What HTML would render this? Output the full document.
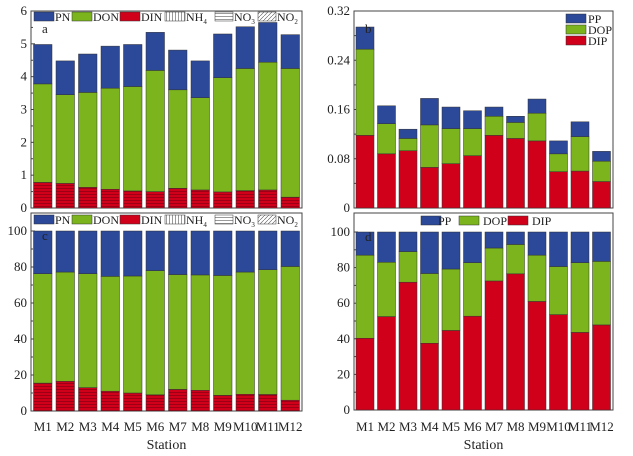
<!DOCTYPE html>
<html><head><meta charset="utf-8"><style>
body{margin:0;background:#fff;}
svg{display:block;font-family:"Liberation Serif",serif;}
</style></head><body>
<svg id="chart" width="633" height="456" viewBox="0 0 633 456" xmlns="http://www.w3.org/2000/svg">
<defs>
<pattern id="din" patternUnits="userSpaceOnUse" width="4" height="3"><rect width="4" height="3" fill="#d0001a"/><line x1="0" y1="2.5" x2="4" y2="2.5" stroke="#7a0010" stroke-width="0.6"/></pattern>
<pattern id="hz" patternUnits="userSpaceOnUse" width="4" height="3"><rect width="4" height="3" fill="#fff"/><line x1="0" y1="1.5" x2="4" y2="1.5" stroke="#555" stroke-width="0.6"/></pattern>
<pattern id="vt" patternUnits="userSpaceOnUse" width="3" height="4"><rect width="3" height="4" fill="#fff"/><line x1="1.5" y1="0" x2="1.5" y2="4" stroke="#555" stroke-width="0.6"/></pattern>
<pattern id="dg" patternUnits="userSpaceOnUse" width="4" height="4"><rect width="4" height="4" fill="#fff"/><line x1="0" y1="4" x2="4" y2="0" stroke="#555" stroke-width="0.6"/></pattern>
</defs>
</svg>
<script>
const stations=["M1","M2","M3","M4","M5","M6","M7","M8","M9","M10","M11","M12"];
const aDIN=[0.78,0.75,0.63,0.57,0.52,0.50,0.60,0.55,0.49,0.53,0.55,0.33];
const aDON=[3.00,2.70,2.89,3.08,3.18,3.69,3.00,2.81,3.48,3.72,3.89,3.92];
const aPN=[1.20,1.03,1.17,1.28,1.28,1.16,1.21,1.12,1.33,1.27,1.21,1.03];
const bDIP=[0.118,0.088,0.093,0.066,0.072,0.085,0.118,0.113,0.109,0.059,0.060,0.043];
const bDOP=[0.140,0.049,0.020,0.069,0.057,0.044,0.031,0.026,0.045,0.029,0.056,0.033];
const bPP=[0.036,0.029,0.015,0.043,0.035,0.029,0.015,0.010,0.023,0.021,0.024,0.016];
const cDIN=[15.5,16.5,13,11,10,9,12,11.5,8.7,9.3,9.2,6];
const cDON=[60.8,60.7,63.3,63.8,65,69,63.8,64.1,66.6,67.9,69.3,74.3];
const cPN=[23.7,22.8,23.7,25.2,25,22,24.2,24.4,24.7,22.8,21.5,19.7];
const dDIP=[40.3,52.5,71.8,37.5,44.7,52.7,72.5,76.5,61,53.6,43.6,47.8];
const dDOP=[46.7,30.5,17.2,39.2,34.5,30.1,18.5,16.5,26,27,39.2,35.7];
const dPP=[13,17,11,23.3,20.8,17.2,9,7,13,19.4,17.2,16.5];
const aTicks=[0,1,2,3,4,5,6];
const bTicks=[0,0.08,0.16,0.24,0.32];
const pTicks=[0,20,40,60,80,100];
const C={PN:"#2b4899",DON:"#7bb41d",DIN:"url(#din)",DIP:"#d0001a"};
const svg=document.getElementById('chart');
const NS="http://www.w3.org/2000/svg";
function mk(tag,at,par){const e=document.createElementNS(NS,tag);for(const k in at)e.setAttribute(k,at[k]);(par||svg).appendChild(e);return e;}
function panel(p){
  const g=mk('g',{});
  
  
  mk('rect',{x:p.x0,y:p.ft,width:p.x1-p.x0,height:p.y0-p.ft,fill:'none',stroke:'#444','stroke-width':1},g);
  const y=v=>p.y0-(v/p.max)*(p.y0-p.ytop);
  p.ticks.forEach((t,i)=>{
    const ty=y(t);
    const l=mk('line',{x1:p.x0,x2:p.x0+4,y1:ty,y2:ty,stroke:'#444'},g);
    
    
    const tx=mk('text',{x:p.x0-4,y:ty+4,'text-anchor':'end','font-size':13,fill:'#222'},g);
    tx.textContent=p.labels[i];
    
    
    if(i<p.ticks.length-1){const mt=y((t+p.ticks[i+1])/2);mk('line',{x1:p.x0,x2:p.x0+2,y1:mt,y2:mt,stroke:'#444'},g);}
  });
  stations.forEach((s,i)=>{
    const bx=p.bx+i*p.pitch;let acc=0;
    p.series.forEach(se=>{
      const v=se.vals[i];const yt=y(acc+v),yb=y(acc);
      const r=mk('rect',{x:bx,y:yt,width:p.bw,height:yb-yt,fill:se.color,stroke:'#333','stroke-width':0.5},g);
      
      
      acc+=v;
    });
    if(p.xlab){const t=mk('text',{x:bx+p.bw/2,y:431,'text-anchor':'middle','font-size':13,fill:'#222'},g);t.textContent=s;
      
      }
  });
  const lt=mk('text',{x:p.x0+11,y:p.ft+p.ly,'font-size':13,fill:'#222'},g);lt.textContent=p.letter;
  
  
  if(p.xlab){const t=mk('text',{x:(p.x0+p.x1)/2,y:449,'text-anchor':'middle','font-size':14,fill:'#222'},g);t.textContent='Station';
    
    }
}
function nLegend(yc){
  const items=[["PN","#2b4899",""],["DON","#7bb41d",""],["DIN","#d0001a",""],["NH","url(#vt)","4"],["NO","url(#hz)","3"],["NO","url(#dg)","2"]];
  const xs=[34,72,120,165,215,258];
  const ws=[20,20,20,20,18,18];
  items.forEach((it,i)=>{
    const r=mk('rect',{x:xs[i],y:yc-5,width:ws[i],height:9,fill:it[1],stroke:'#333','stroke-width':0.5});
    
    
    const t=mk('text',{x:xs[i]+ws[i]+1,y:yc+4,'font-size':12,fill:'#222'});
    
    
    t.textContent=it[0];
    if(it[2]){const sb=mk('tspan',{'font-size':7,dy:3},t);sb.textContent=it[2];}
  });
}
panel({name:'panel-a',letter:'a',ly:22,x0:31,x1:302,ft:11,ytop:11,y0:208,max:6,ticks:aTicks,labels:aTicks.map(String),bx:33.5,pitch:22.5,bw:18.5,
  series:[{key:'DIN',vals:aDIN,color:C.DIN},{key:'DON',vals:aDON,color:C.DON},{key:'PN',vals:aPN,color:C.PN}]});
panel({name:'panel-b',letter:'b',ly:22,x0:354,x1:613,ft:11,ytop:11,y0:208,max:0.32,ticks:bTicks,labels:["0","0.08","0.16","0.24","0.32"],bx:356,pitch:21.5,bw:18,
  series:[{key:'DIP',vals:bDIP,color:C.DIP},{key:'DOP',vals:bDOP,color:C.DON},{key:'PP',vals:bPP,color:C.PN}]});
panel({name:'panel-c',letter:'c',ly:27,x0:31,x1:302,ft:213,ytop:231,y0:411,max:100,ticks:pTicks,labels:pTicks.map(String),bx:33.5,pitch:22.5,bw:18.5,xlab:true,
  series:[{key:'DIN',vals:cDIN,color:C.DIN},{key:'DON',vals:cDON,color:C.DON},{key:'PN',vals:cPN,color:C.PN}]});
panel({name:'panel-d',letter:'d',ly:28,x0:354,x1:613,ft:213,ytop:232,y0:410,max:100,ticks:pTicks,labels:pTicks.map(String),bx:356,pitch:21.5,bw:18,xlab:true,
  series:[{key:'DIP',vals:dDIP,color:C.DIP},{key:'DOP',vals:dDOP,color:C.DON},{key:'PP',vals:dPP,color:C.PN}]});
nLegend(17);nLegend(220);
[["PP","#2b4899",19],["DOP","#7bb41d",30],["DIP","#d0001a",41]].forEach(it=>{
  const r=mk('rect',{x:566,y:it[2]-5,width:20,height:9,fill:it[1],stroke:'#333','stroke-width':0.5});
  
  
  const t=mk('text',{x:588,y:it[2]+4,'font-size':12,fill:'#222'});t.textContent=it[0];
  
  
});
[["PP","#2b4899",421],["DOP","#7bb41d",459],["DIP","#d0001a",508]].forEach(it=>{
  const r=mk('rect',{x:it[2],y:216,width:20,height:9,fill:it[1],stroke:'#333','stroke-width':0.5});
  
  
  const t=mk('text',{x:it[2]+(it[0]==="PP"?17:24),y:225,'font-size':12,fill:'#222'});t.textContent=it[0];
  
  
});
</script>
</body></html>
